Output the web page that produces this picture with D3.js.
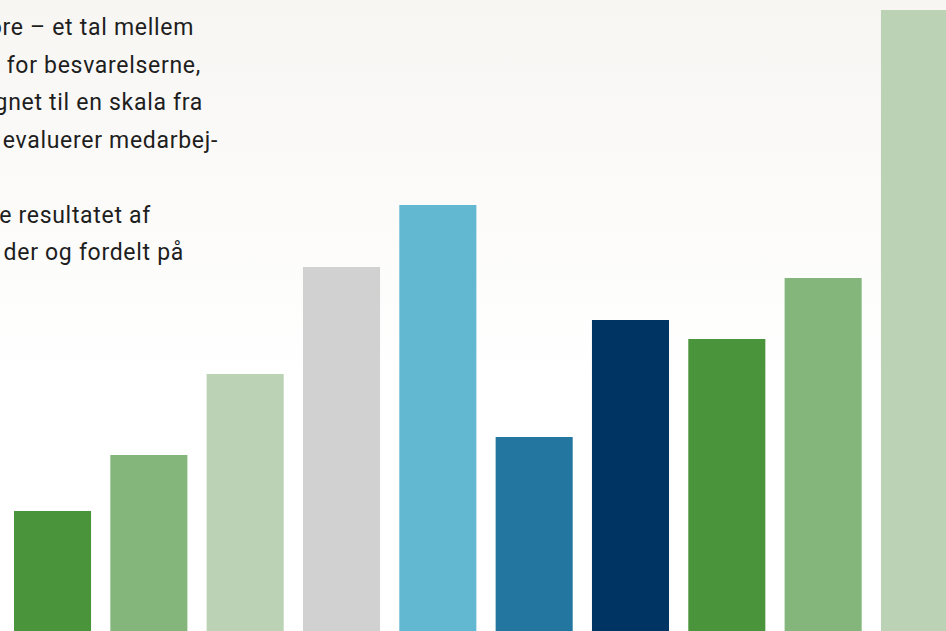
<!DOCTYPE html>
<html>
<head>
<meta charset="utf-8">
<script src="https://cdn.jsdelivr.net/npm/d3@7"></script>
<style>
  html, body { margin: 0; padding: 0; background: #fff; }
  svg { display: block; }
  .intro { font-family: Roboto, "Open Sans", sans-serif; font-size: 23px; letter-spacing: 0.7px; fill: #1e1e1e; }
</style>
</head>
<body>
<svg id="chart" width="946" height="631"></svg>
<script>
// bar categories and values
const categories = ['A', 'B', 'C', 'D', 'E', 'F', 'G', 'H', 'I', 'J'];
const values = [12.0, 17.6, 25.7, 36.4, 42.6, 19.4, 31.1, 29.2, 35.3, 62.1];
const colors = ['#4a943c', '#84b57b', '#bbd2b5', '#d0d1d0', '#62b8d1',
                '#2276a0', '#003462', '#4a943c', '#84b57b', '#bbd2b5'];

// visible text fragments (the paragraph is cut at the left edge), right ends
const intro_lines = ['ore – et tal mellem', 'for besvarelserne,', 'gnet til en skala fra',
                     'evaluerer medarbej-', '', 'e resultatet af', 'der og fordelt på'];
const intro_end = [194, 201, 203, 218, 0, 151, 184];

const width = 946, height = 631;
const svg = d3.select('#chart');

const grad = svg.append('defs').append('linearGradient')
  .attr('id', 'bg').attr('x1', 0).attr('y1', 0).attr('x2', 0).attr('y2', 1);
grad.append('stop').attr('offset', '0%').attr('stop-color', '#f7f6f3');
grad.append('stop').attr('offset', '60%').attr('stop-color', '#ffffff');
grad.append('stop').attr('offset', '100%').attr('stop-color', '#ffffff');

svg.append('rect').attr('width', width).attr('height', height).attr('fill', 'url(#bg)');

const x = d3.scaleBand()
  .domain(categories)
  .range([14, 958])
  .paddingInner(0.2)
  .paddingOuter(0);

const y = d3.scaleLinear()
  .domain([0, 63.1])
  .range([height, 0]);

svg.selectAll('.bar')
  .data(values)
  .enter()
  .append('rect')
  .attr('class', 'bar')
  .attr('x', (d, i) => x(categories[i]))
  .attr('y', (d) => y(d))
  .attr('width', x.bandwidth())
  .attr('height', (d) => y(0) - y(d))
  .attr('fill', (d, i) => colors[i]);

svg.selectAll('.intro')
  .data(intro_lines)
  .enter()
  .append('text')
  .attr('class', 'intro')
  .attr('text-anchor', 'end')
  .attr('x', (d, i) => intro_end[i])
  .attr('y', (d, i) => 35 + i * 37.5)
  .text((d) => d);
</script>
</body>
</html>
